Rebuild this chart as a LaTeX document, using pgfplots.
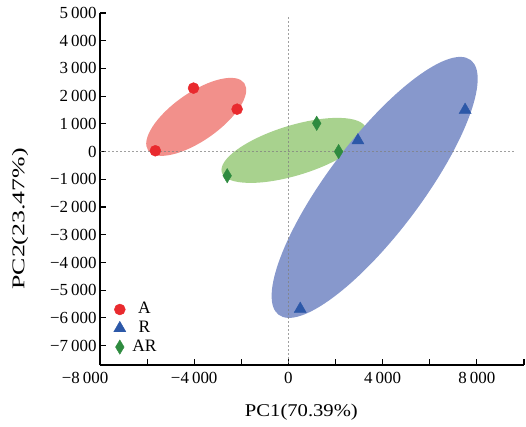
\documentclass[border=0pt]{standalone}
\usepackage{graphicx}
\usepackage{pgfplots}
\pgfplotsset{compat=1.18}
\usepackage{fontspec}
\setmainfont{Liberation Serif}
\definecolor{mred}{HTML}{E92A2E}
\definecolor{mblue}{HTML}{2C58A8}
\definecolor{mgreen}{HTML}{2E8B3F}
\definecolor{ered}{HTML}{F2908B}
\definecolor{egreen}{HTML}{A8D28E}
\definecolor{eblue}{HTML}{8798CC}
\newcommand{\ts}{\hspace{0.18em}}
\begin{document}
\begin{tikzpicture}
\useasboundingbox (-100bp,-62bp) rectangle (426bp,365bp);
\begin{axis}[
  at={(0,0)}, anchor=south west,
  scale only axis, width=424bp, height=352bp,
  xmin=-8000, xmax=10000, ymin=-7700, ymax=5000,
  scaled x ticks=false, scaled y ticks=false,
  axis lines=left, axis line style={-, line width=1.2bp, black},
  tick align=inside, major tick length=6bp, minor tick length=6bp,
  tick style={black, line width=1.2bp},
  xtick={-8000,-4000,0,4000,8000},
  xticklabels={−8\ts000\hspace*{30bp}, −4\ts000, 0, 4\ts000, 8\ts000},
  minor xtick={-6000,-2000,2000,6000,10000},
  ytick={-7000,-6000,...,5000},
  yticklabels={−7\ts000,−6\ts000,−5\ts000,−4\ts000,−3\ts000,−2\ts000,−1\ts000,0,1\ts000,2\ts000,3\ts000,4\ts000,5\ts000},
  tick label style={font=\fontsize{17}{20}\selectfont},
  xticklabel style={yshift=-4bp},
  xlabel={\scalebox{1.15}[1]{PC1(70.39\%)}},
  ylabel={\scalebox{1.44}[1]{PC2(23.47\%)}},
  label style={font=\fontsize{18}{20}\selectfont},
  xlabel style={at={(axis description cs:0.475,-0.1335)}, anchor=center},
  ylabel style={at={(axis description cs:-0.1887,0.415)}, anchor=center},
  legend style={draw=none, fill=none, at={(axis description cs:0.0320,0.185)}, anchor=north west,
    inner sep=0pt, row sep=0pt, column sep=5bp,
    nodes={inner sep=1.5bp, text height=12bp, text depth=3.8bp, font=\fontsize{17.5}{20}\selectfont}},
  legend image code/.code={\draw[mark repeat=2,mark phase=2,#1] plot coordinates {(0bp,0bp)(7bp,0bp)(14bp,0bp)};},
]
% confidence ellipses
\fill[ered, rotate around={35:(axis cs:-3915,1253)}] (axis cs:-3915,1253) ellipse [x radius=58.7bp, y radius=24bp];
\fill[egreen, rotate around={17:(axis cs:234,43)}] (axis cs:234,43) ellipse [x radius=75.4bp, y radius=25bp];
\fill[eblue, rotate around={53:(axis cs:3660,-1292)}] (axis cs:3660,-1292) ellipse [x radius=159.5bp, y radius=46.8bp];
% reference lines
\addplot[forget plot, gray, opacity=0.75, line width=1.3bp, dash pattern=on 2bp off 2bp] coordinates {(-8000,0) (9650,0)};
\addplot[forget plot, gray, opacity=0.75, line width=1.3bp, dash pattern=on 2bp off 2bp] coordinates {(0,4850) (0,-7700)};
% points
\addplot[only marks, mark=*, mark size=5.5bp, color=mred, mark options={fill=mred, draw=mred}] coordinates {(-5650,30) (-4030,2290) (-2180,1530)};
\addlegendentry{A}
\addplot[only marks, mark=triangle*, mark size=7bp, color=mblue, mark options={fill=mblue, draw=mblue}] coordinates {(2950,400) (7500,1500) (500,-5680)};
\addlegendentry{R}
\addplot[only marks, mark=diamond*, mark size=7.2bp, color=mgreen, mark options={fill=mgreen, draw=mgreen, xscale=0.8}] coordinates {(-2600,-870) (1200,1020) (2130,0)};
\addlegendentry{AR}
\end{axis}
\end{tikzpicture}
\end{document}
